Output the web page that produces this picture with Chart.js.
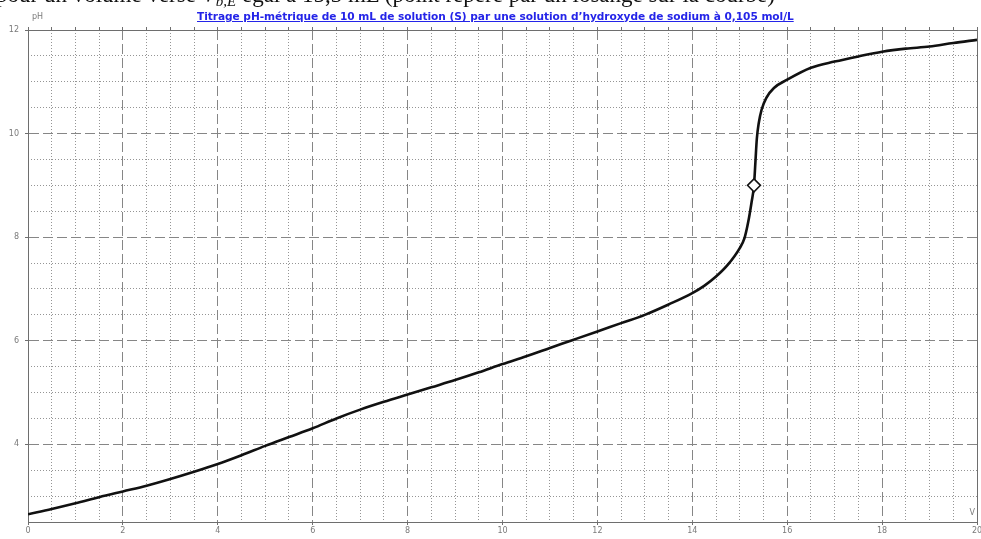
<!DOCTYPE html>
<html lang="fr">
<head>
<meta charset="utf-8">
<title>Titrage pH-métrique</title>
<script src="https://cdn.jsdelivr.net/npm/chart.js@4/dist/chart.umd.min.js"></script>
<style>
  html, body { margin: 0; padding: 0; background: #fff; }
  body { width: 981px; height: 539px; position: relative; overflow: hidden; }
  #wrap { position: absolute; left: 0; top: 0; width: 981px; height: 539px; }
  #doc-line {
    position: absolute; left: -4px; top: -16px; white-space: nowrap;
    font-family: "Liberation Serif", "DejaVu Serif", serif; font-size: 23px;
    line-height: 22px; color: #111;
  }
  #doc-line sub { font-size: 15px; vertical-align: -4px; line-height: 0; font-style: italic; }
  #doc-line i { font-style: italic; }
  #title {
    position: absolute; left: 197px; top: 10px; white-space: nowrap;
    font-family: "DejaVu Sans", sans-serif; font-weight: bold; font-size: 10.6px;
    color: #2424e8; text-decoration: underline; letter-spacing: -0.05px;
  }
</style>
</head>
<body>
<div id="wrap"><canvas id="chart" width="981" height="539"></canvas></div>
<div id="doc-line">pour un volume versé <i>V</i><sub>b,E</sub> égal à 15,3 mL (point repéré par un losange sur la courbe)</div>
<div id="title">Titrage pH-métrique de 10 mL de solution (S) par une solution d’hydroxyde de sodium à 0,105 mol/L</div>
<script>
// Volume de soude versé (mL) et pH mesuré
const volumes = [0, 0.5, 1, 1.5, 2, 2.5, 3, 3.5, 4, 4.5, 5, 5.5, 6, 6.5, 7, 7.5, 8, 8.5, 9, 9.5,
  10, 10.5, 11, 11.5, 12, 12.5, 13, 13.5, 14, 14.25, 14.5, 14.75, 15, 15.1, 15.18, 15.25, 15.3,
  15.33, 15.36, 15.4, 15.46, 15.56, 15.72, 16, 16.5, 17, 17.5, 18, 18.5, 19, 19.5, 20];
const phValues = [2.65, 2.75, 2.86, 2.98, 3.09, 3.20, 3.33, 3.47, 3.62, 3.79, 3.97, 4.14, 4.31, 4.50, 4.67, 4.82, 4.96, 5.10, 5.24, 5.39,
  5.55, 5.70, 5.86, 6.02, 6.18, 6.34, 6.50, 6.70, 6.92, 7.06, 7.24, 7.47, 7.79, 7.98, 8.30, 8.68, 9.00,
  9.45, 9.90, 10.20, 10.46, 10.69, 10.88, 11.04, 11.27, 11.39, 11.49, 11.58, 11.64, 11.68, 11.75, 11.81];

// Point d'équivalence (losange)
const equivVolume = [15.3];
const equivPh = [9.0];

// Graduations
const xTickValues = [0, 2, 4, 6, 8, 10, 12, 14, 16, 18, 20];
const yTickValues = [4, 6, 8, 10, 12];
const xRange = [0, 20];
const yRange = [2.5, 12];
const minorStep = 0.5;

const curvePoints = volumes.map((v, i) => ({ x: v, y: phValues[i] }));
const equivPoints = equivVolume.map((v, i) => ({ x: v, y: equivPh[i] }));

const tickFont = { family: "DejaVu Sans", size: 8 };
const tickColor = '#7a7a7a';
const axisColor = '#6e6e6e';

const isMajor = (v) => Math.abs(v / 2 - Math.round(v / 2)) < 1e-6;
const noSidePadding = (s) => { s.paddingLeft = 0; s.paddingRight = 0; s.paddingTop = 0; s.paddingBottom = 0; };

// Axis unit labels drawn next to the axes
const unitLabels = {
  id: 'unitLabels',
  afterDraw(chart) {
    const { ctx, chartArea } = chart;
    ctx.save();
    ctx.font = '8px "DejaVu Sans"';
    ctx.fillStyle = tickColor;
    ctx.textBaseline = 'middle';
    ctx.textAlign = 'left';
    ctx.fillText('pH', chartArea.left + 4, chartArea.top - 13);
    ctx.textAlign = 'right';
    ctx.fillText('V', chartArea.right - 2, chartArea.bottom - 9);
    ctx.restore();
  }
};

new Chart(document.getElementById('chart'), {
  type: 'line',
  data: {
    datasets: [
      {
        data: equivPoints,
        showLine: false,
        pointStyle: 'rectRot',
        pointRadius: 6.5,
        pointBorderWidth: 1.5,
        pointBorderColor: '#111',
        pointBackgroundColor: '#fff',
        order: 0
      },
      {
        data: curvePoints,
        borderColor: '#111',
        borderWidth: 2.6,
        pointRadius: 0,
        cubicInterpolationMode: 'monotone',
        fill: false,
        order: 1
      }
    ]
  },
  options: {
    responsive: false,
    animation: false,
    layout: { autoPadding: false, padding: { top: 30, right: 4, left: 0, bottom: 0 } },
    plugins: { legend: { display: false }, tooltip: { enabled: false }, title: { display: false } },
    scales: {
      x: {
        type: 'linear', position: 'bottom', min: xRange[0], max: xRange[1],
        afterBuildTicks: (s) => { s.ticks = xTickValues.map(v => ({ value: v })); },
        afterFit: (s) => { s.height = 17; noSidePadding(s); },
        ticks: { font: tickFont, color: tickColor, padding: 1, maxRotation: 0, autoSkip: false },
        grid: { color: '#868686', lineWidth: 1, tickLength: 3, tickColor: axisColor, z: 0 },
        border: { display: true, color: axisColor, width: 1, dash: [10, 4] }
      },
      xMinor: {
        type: 'linear', position: 'bottom', min: xRange[0], max: xRange[1],
        ticks: { display: false, stepSize: minorStep },
        afterFit: (s) => { s.height = 0; noSidePadding(s); },
        grid: {
          color: (c) => (c.tick && isMajor(c.tick.value)) ? 'rgba(0,0,0,0)' : '#959595',
          lineWidth: 1, drawTicks: false
        },
        border: { display: false, dash: [1, 2] }
      },
      xTop: {
        type: 'linear', position: 'top', min: xRange[0], max: xRange[1],
        ticks: { display: false, stepSize: minorStep },
        afterFit: (s) => { s.height = 0; noSidePadding(s); },
        grid: { drawOnChartArea: false, drawTicks: true, tickLength: 3, tickColor: axisColor },
        border: { display: true, color: axisColor, width: 1 }
      },
      y: {
        type: 'linear', position: 'left', min: yRange[0], max: yRange[1],
        afterBuildTicks: (s) => { s.ticks = yTickValues.map(v => ({ value: v })); },
        afterFit: (s) => { s.width = 28; noSidePadding(s); },
        ticks: { font: tickFont, color: tickColor, padding: 6 },
        grid: { color: '#868686', lineWidth: 1, tickLength: 3, tickColor: axisColor },
        border: { display: true, color: axisColor, width: 1, dash: [10, 4] }
      },
      yMinor: {
        type: 'linear', position: 'left', min: yRange[0], max: yRange[1],
        ticks: { display: false, stepSize: minorStep },
        afterFit: (s) => { s.width = 0; noSidePadding(s); },
        grid: {
          color: (c) => (c.tick && isMajor(c.tick.value)) ? 'rgba(0,0,0,0)' : '#959595',
          lineWidth: 1, drawTicks: false
        },
        border: { display: false, dash: [1, 2] }
      },
      yRight: {
        type: 'linear', position: 'right', min: yRange[0], max: yRange[1],
        ticks: { display: false },
        afterFit: (s) => { s.width = 0; noSidePadding(s); },
        grid: { display: false },
        border: { display: true, color: axisColor, width: 1 }
      }
    }
  },
  plugins: [unitLabels]
});
</script>
</body>
</html>
